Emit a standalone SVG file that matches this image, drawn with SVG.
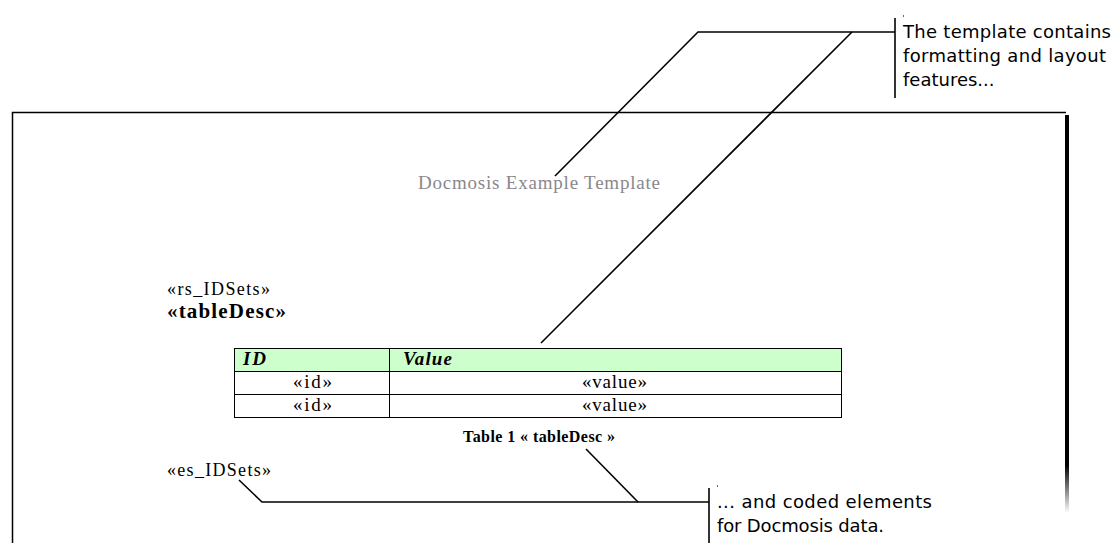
<svg xmlns="http://www.w3.org/2000/svg" width="1113" height="543" viewBox="0 0 1113 543">
<style>
.call{font-family:"DejaVu Sans",Verdana,sans-serif;font-size:18px;fill:#000}
.doc{font-family:"Liberation Serif","Times New Roman",serif;fill:#000}
.ln{stroke:#000;stroke-width:1.6;fill:none}
.cell{fill:#fff;stroke:#000;stroke-width:1}
</style>
<defs>
<linearGradient id="shadow" x1="0" y1="0" x2="0" y2="1">
<stop offset="0" stop-color="#000"/>
<stop offset="0.88" stop-color="#000"/>
<stop offset="1" stop-color="#000" stop-opacity="0"/>
</linearGradient>
</defs>
<rect width="1113" height="543" fill="#fff"/>
<g id="page">
<rect x="1065" y="115" width="4" height="398" fill="url(#shadow)"/>
<path d="M12.5,543 V112.5 H1066" stroke="#000" stroke-width="1.5" fill="none"/>
<text class="doc" x="418" y="189" font-size="19" style="fill:#8a878c" textLength="242">Docmosis Example Template</text>
<text class="doc" x="167" y="295" font-size="18" textLength="103">«rs_IDSets»</text>
<text class="doc" x="167" y="318" font-size="21" font-weight="bold" textLength="119">«tableDesc»</text>
<text class="doc" x="167" y="476" font-size="18" textLength="104">«es_IDSets»</text>
</g>
<g id="table">
<rect x="234.5" y="348.5" width="607" height="23" fill="#ccffcc" stroke="#000"/>
<rect class="cell" x="234.5" y="371.5" width="607" height="23"/>
<rect class="cell" x="234.5" y="394.5" width="607" height="23"/>
<line x1="389.5" y1="348.5" x2="389.5" y2="417.5" stroke="#000"/>
<text class="doc" x="243" y="365" font-size="19" font-weight="bold" font-style="italic" textLength="23">ID</text>
<text class="doc" x="403" y="365" font-size="19" font-weight="bold" font-style="italic" textLength="49">Value</text>
<text class="doc" x="293" y="388" font-size="19" textLength="39">«id»</text>
<text class="doc" x="582" y="388" font-size="19" textLength="65">«value»</text>
<text class="doc" x="293" y="411" font-size="19" textLength="39">«id»</text>
<text class="doc" x="582" y="411" font-size="19" textLength="65">«value»</text>
<text class="doc" x="463" y="442" font-size="16" font-weight="bold" textLength="152">Table 1 « tableDesc »</text>
</g>
<g id="callout-top">
<line class="ln" x1="895" y1="18" x2="895" y2="98"/>
<rect x="903" y="15" width="1" height="2" fill="#666"/>
<text class="call" x="903" y="38" textLength="208">The template contains</text>
<text class="call" x="903" y="62" textLength="203">formatting and layout</text>
<text class="call" x="903" y="86">features...</text>
</g>
<g id="callout-bottom">
<line class="ln" x1="709" y1="488" x2="709" y2="543"/>
<rect x="717" y="485" width="1" height="2" fill="#666"/>
<text class="call" x="717" y="508" textLength="215">... and coded elements</text>
<text class="call" x="717" y="532" textLength="167">for Docmosis data.</text>
</g>
<g id="connectors">
<polyline class="ln" points="895,32 698,32 555,176"/>
<line class="ln" x1="852" y1="32" x2="541" y2="343"/>
<polyline class="ln" points="239,480 262,502 709,502"/>
<line class="ln" x1="586" y1="449" x2="638" y2="502"/>
</g>
</svg>
